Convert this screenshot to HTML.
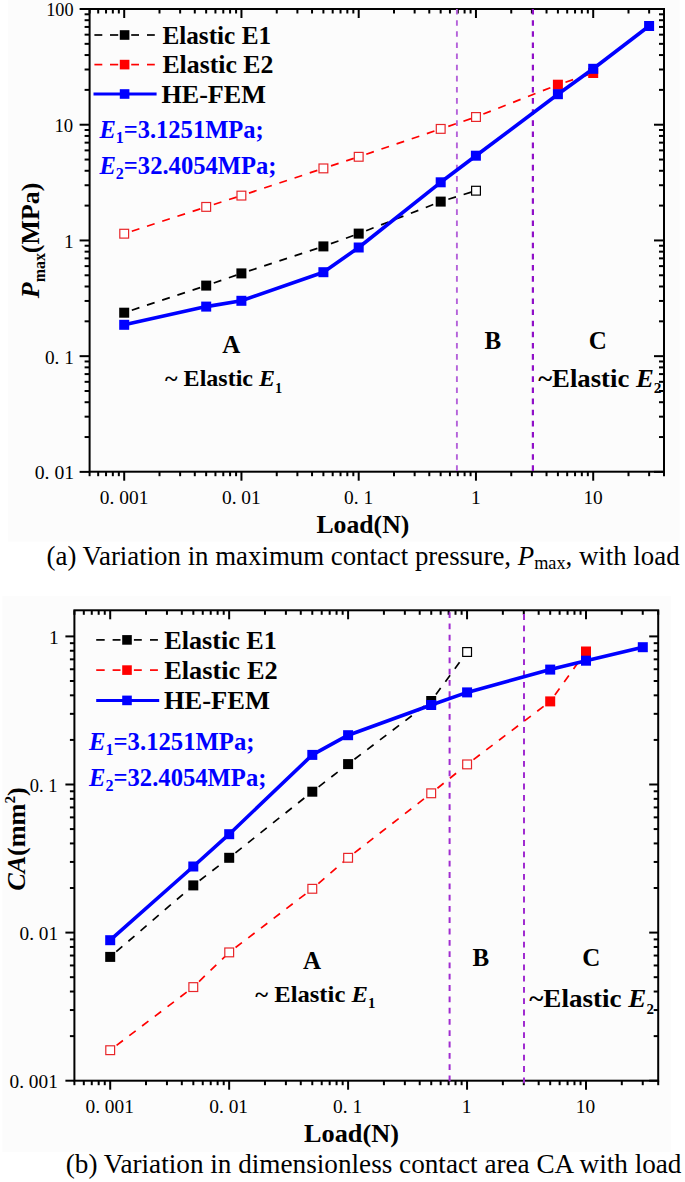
<!DOCTYPE html>
<html><head><meta charset="utf-8"><style>
html,body{margin:0;padding:0;background:#fff;}
svg{display:block;}
text{font-family:"Liberation Serif",serif;}
</style></head><body>
<svg width="685" height="1182" viewBox="0 0 685 1182">
<rect width="685" height="1182" fill="#fff"/>
<rect x="8" y="0" width="671.5" height="541.6" fill="#fcfcfc"/>
<rect x="2.5" y="596" width="668.5" height="556" fill="#fcfcfc"/>
<g stroke="#000" stroke-width="2" fill="none"><line x1="89.60" y1="471.70" x2="89.60" y2="476.20"/><line x1="89.60" y1="9.00" x2="89.60" y2="13.50"/><line x1="98.19" y1="471.70" x2="98.19" y2="476.20"/><line x1="98.19" y1="9.00" x2="98.19" y2="13.50"/><line x1="106.04" y1="471.70" x2="106.04" y2="476.20"/><line x1="106.04" y1="9.00" x2="106.04" y2="13.50"/><line x1="112.84" y1="471.70" x2="112.84" y2="476.20"/><line x1="112.84" y1="9.00" x2="112.84" y2="13.50"/><line x1="118.83" y1="471.70" x2="118.83" y2="476.20"/><line x1="118.83" y1="9.00" x2="118.83" y2="13.50"/><line x1="124.20" y1="471.70" x2="124.20" y2="480.70"/><line x1="124.20" y1="9.00" x2="124.20" y2="18.00"/><line x1="159.50" y1="471.70" x2="159.50" y2="476.20"/><line x1="159.50" y1="9.00" x2="159.50" y2="13.50"/><line x1="180.14" y1="471.70" x2="180.14" y2="476.20"/><line x1="180.14" y1="9.00" x2="180.14" y2="13.50"/><line x1="194.79" y1="471.70" x2="194.79" y2="476.20"/><line x1="194.79" y1="9.00" x2="194.79" y2="13.50"/><line x1="206.15" y1="471.70" x2="206.15" y2="476.20"/><line x1="206.15" y1="9.00" x2="206.15" y2="13.50"/><line x1="215.44" y1="471.70" x2="215.44" y2="476.20"/><line x1="215.44" y1="9.00" x2="215.44" y2="13.50"/><line x1="223.29" y1="471.70" x2="223.29" y2="476.20"/><line x1="223.29" y1="9.00" x2="223.29" y2="13.50"/><line x1="230.09" y1="471.70" x2="230.09" y2="476.20"/><line x1="230.09" y1="9.00" x2="230.09" y2="13.50"/><line x1="236.08" y1="471.70" x2="236.08" y2="476.20"/><line x1="236.08" y1="9.00" x2="236.08" y2="13.50"/><line x1="241.45" y1="471.70" x2="241.45" y2="480.70"/><line x1="241.45" y1="9.00" x2="241.45" y2="18.00"/><line x1="276.75" y1="471.70" x2="276.75" y2="476.20"/><line x1="276.75" y1="9.00" x2="276.75" y2="13.50"/><line x1="297.39" y1="471.70" x2="297.39" y2="476.20"/><line x1="297.39" y1="9.00" x2="297.39" y2="13.50"/><line x1="312.04" y1="471.70" x2="312.04" y2="476.20"/><line x1="312.04" y1="9.00" x2="312.04" y2="13.50"/><line x1="323.40" y1="471.70" x2="323.40" y2="476.20"/><line x1="323.40" y1="9.00" x2="323.40" y2="13.50"/><line x1="332.69" y1="471.70" x2="332.69" y2="476.20"/><line x1="332.69" y1="9.00" x2="332.69" y2="13.50"/><line x1="340.54" y1="471.70" x2="340.54" y2="476.20"/><line x1="340.54" y1="9.00" x2="340.54" y2="13.50"/><line x1="347.34" y1="471.70" x2="347.34" y2="476.20"/><line x1="347.34" y1="9.00" x2="347.34" y2="13.50"/><line x1="353.33" y1="471.70" x2="353.33" y2="476.20"/><line x1="353.33" y1="9.00" x2="353.33" y2="13.50"/><line x1="358.70" y1="471.70" x2="358.70" y2="480.70"/><line x1="358.70" y1="9.00" x2="358.70" y2="18.00"/><line x1="394.00" y1="471.70" x2="394.00" y2="476.20"/><line x1="394.00" y1="9.00" x2="394.00" y2="13.50"/><line x1="414.64" y1="471.70" x2="414.64" y2="476.20"/><line x1="414.64" y1="9.00" x2="414.64" y2="13.50"/><line x1="429.29" y1="471.70" x2="429.29" y2="476.20"/><line x1="429.29" y1="9.00" x2="429.29" y2="13.50"/><line x1="440.65" y1="471.70" x2="440.65" y2="476.20"/><line x1="440.65" y1="9.00" x2="440.65" y2="13.50"/><line x1="449.94" y1="471.70" x2="449.94" y2="476.20"/><line x1="449.94" y1="9.00" x2="449.94" y2="13.50"/><line x1="457.79" y1="471.70" x2="457.79" y2="476.20"/><line x1="457.79" y1="9.00" x2="457.79" y2="13.50"/><line x1="464.59" y1="471.70" x2="464.59" y2="476.20"/><line x1="464.59" y1="9.00" x2="464.59" y2="13.50"/><line x1="470.58" y1="471.70" x2="470.58" y2="476.20"/><line x1="470.58" y1="9.00" x2="470.58" y2="13.50"/><line x1="475.95" y1="471.70" x2="475.95" y2="480.70"/><line x1="475.95" y1="9.00" x2="475.95" y2="18.00"/><line x1="511.25" y1="471.70" x2="511.25" y2="476.20"/><line x1="511.25" y1="9.00" x2="511.25" y2="13.50"/><line x1="531.89" y1="471.70" x2="531.89" y2="476.20"/><line x1="531.89" y1="9.00" x2="531.89" y2="13.50"/><line x1="546.54" y1="471.70" x2="546.54" y2="476.20"/><line x1="546.54" y1="9.00" x2="546.54" y2="13.50"/><line x1="557.90" y1="471.70" x2="557.90" y2="476.20"/><line x1="557.90" y1="9.00" x2="557.90" y2="13.50"/><line x1="567.19" y1="471.70" x2="567.19" y2="476.20"/><line x1="567.19" y1="9.00" x2="567.19" y2="13.50"/><line x1="575.04" y1="471.70" x2="575.04" y2="476.20"/><line x1="575.04" y1="9.00" x2="575.04" y2="13.50"/><line x1="581.84" y1="471.70" x2="581.84" y2="476.20"/><line x1="581.84" y1="9.00" x2="581.84" y2="13.50"/><line x1="587.83" y1="471.70" x2="587.83" y2="476.20"/><line x1="587.83" y1="9.00" x2="587.83" y2="13.50"/><line x1="593.20" y1="471.70" x2="593.20" y2="480.70"/><line x1="593.20" y1="9.00" x2="593.20" y2="18.00"/><line x1="628.50" y1="471.70" x2="628.50" y2="476.20"/><line x1="628.50" y1="9.00" x2="628.50" y2="13.50"/><line x1="649.14" y1="471.70" x2="649.14" y2="476.20"/><line x1="649.14" y1="9.00" x2="649.14" y2="13.50"/><line x1="664.00" y1="471.70" x2="664.00" y2="476.20"/><line x1="664.00" y1="9.00" x2="664.00" y2="13.50"/><line x1="89.60" y1="471.88" x2="79.60" y2="471.88"/><line x1="664.00" y1="471.88" x2="654.00" y2="471.88"/><line x1="89.60" y1="437.04" x2="84.60" y2="437.04"/><line x1="664.00" y1="437.04" x2="659.00" y2="437.04"/><line x1="89.60" y1="416.67" x2="84.60" y2="416.67"/><line x1="664.00" y1="416.67" x2="659.00" y2="416.67"/><line x1="89.60" y1="402.21" x2="84.60" y2="402.21"/><line x1="664.00" y1="402.21" x2="659.00" y2="402.21"/><line x1="89.60" y1="391.00" x2="84.60" y2="391.00"/><line x1="664.00" y1="391.00" x2="659.00" y2="391.00"/><line x1="89.60" y1="381.83" x2="84.60" y2="381.83"/><line x1="664.00" y1="381.83" x2="659.00" y2="381.83"/><line x1="89.60" y1="374.09" x2="84.60" y2="374.09"/><line x1="664.00" y1="374.09" x2="659.00" y2="374.09"/><line x1="89.60" y1="367.37" x2="84.60" y2="367.37"/><line x1="664.00" y1="367.37" x2="659.00" y2="367.37"/><line x1="89.60" y1="361.46" x2="84.60" y2="361.46"/><line x1="664.00" y1="361.46" x2="659.00" y2="361.46"/><line x1="89.60" y1="356.16" x2="79.60" y2="356.16"/><line x1="664.00" y1="356.16" x2="654.00" y2="356.16"/><line x1="89.60" y1="321.32" x2="84.60" y2="321.32"/><line x1="664.00" y1="321.32" x2="659.00" y2="321.32"/><line x1="89.60" y1="300.95" x2="84.60" y2="300.95"/><line x1="664.00" y1="300.95" x2="659.00" y2="300.95"/><line x1="89.60" y1="286.49" x2="84.60" y2="286.49"/><line x1="664.00" y1="286.49" x2="659.00" y2="286.49"/><line x1="89.60" y1="275.28" x2="84.60" y2="275.28"/><line x1="664.00" y1="275.28" x2="659.00" y2="275.28"/><line x1="89.60" y1="266.11" x2="84.60" y2="266.11"/><line x1="664.00" y1="266.11" x2="659.00" y2="266.11"/><line x1="89.60" y1="258.37" x2="84.60" y2="258.37"/><line x1="664.00" y1="258.37" x2="659.00" y2="258.37"/><line x1="89.60" y1="251.65" x2="84.60" y2="251.65"/><line x1="664.00" y1="251.65" x2="659.00" y2="251.65"/><line x1="89.60" y1="245.74" x2="84.60" y2="245.74"/><line x1="664.00" y1="245.74" x2="659.00" y2="245.74"/><line x1="89.60" y1="240.44" x2="79.60" y2="240.44"/><line x1="664.00" y1="240.44" x2="654.00" y2="240.44"/><line x1="89.60" y1="205.60" x2="84.60" y2="205.60"/><line x1="664.00" y1="205.60" x2="659.00" y2="205.60"/><line x1="89.60" y1="185.23" x2="84.60" y2="185.23"/><line x1="664.00" y1="185.23" x2="659.00" y2="185.23"/><line x1="89.60" y1="170.77" x2="84.60" y2="170.77"/><line x1="664.00" y1="170.77" x2="659.00" y2="170.77"/><line x1="89.60" y1="159.56" x2="84.60" y2="159.56"/><line x1="664.00" y1="159.56" x2="659.00" y2="159.56"/><line x1="89.60" y1="150.39" x2="84.60" y2="150.39"/><line x1="664.00" y1="150.39" x2="659.00" y2="150.39"/><line x1="89.60" y1="142.65" x2="84.60" y2="142.65"/><line x1="664.00" y1="142.65" x2="659.00" y2="142.65"/><line x1="89.60" y1="135.93" x2="84.60" y2="135.93"/><line x1="664.00" y1="135.93" x2="659.00" y2="135.93"/><line x1="89.60" y1="130.02" x2="84.60" y2="130.02"/><line x1="664.00" y1="130.02" x2="659.00" y2="130.02"/><line x1="89.60" y1="124.72" x2="79.60" y2="124.72"/><line x1="664.00" y1="124.72" x2="654.00" y2="124.72"/><line x1="89.60" y1="89.88" x2="84.60" y2="89.88"/><line x1="664.00" y1="89.88" x2="659.00" y2="89.88"/><line x1="89.60" y1="69.51" x2="84.60" y2="69.51"/><line x1="664.00" y1="69.51" x2="659.00" y2="69.51"/><line x1="89.60" y1="55.05" x2="84.60" y2="55.05"/><line x1="664.00" y1="55.05" x2="659.00" y2="55.05"/><line x1="89.60" y1="43.84" x2="84.60" y2="43.84"/><line x1="664.00" y1="43.84" x2="659.00" y2="43.84"/><line x1="89.60" y1="34.67" x2="84.60" y2="34.67"/><line x1="664.00" y1="34.67" x2="659.00" y2="34.67"/><line x1="89.60" y1="26.93" x2="84.60" y2="26.93"/><line x1="664.00" y1="26.93" x2="659.00" y2="26.93"/><line x1="89.60" y1="20.21" x2="84.60" y2="20.21"/><line x1="664.00" y1="20.21" x2="659.00" y2="20.21"/><line x1="89.60" y1="14.30" x2="84.60" y2="14.30"/><line x1="664.00" y1="14.30" x2="659.00" y2="14.30"/><line x1="89.60" y1="9.00" x2="79.60" y2="9.00"/><line x1="664.00" y1="9.00" x2="654.00" y2="9.00"/><rect x="89.60" y="9.00" width="574.40" height="462.70" fill="none"/></g>
<line x1="456.9" y1="9.0" x2="456.9" y2="471.5" stroke="#b462da" stroke-width="1.9" stroke-dasharray="5.6 5.53" stroke-dashoffset="0"/><line x1="532.9" y1="9.0" x2="532.9" y2="471.5" stroke="#9010c8" stroke-width="2.2" stroke-dasharray="5.6 5.53" stroke-dashoffset="0"/><line x1="124.2" y1="233.7" x2="206.2" y2="206.9" stroke="#ff0000" stroke-width="1.7" stroke-dasharray="8 8" stroke-dashoffset="8"/><line x1="206.2" y1="206.9" x2="241.4" y2="195.6" stroke="#ff0000" stroke-width="1.7" stroke-dasharray="8 8" stroke-dashoffset="8"/><line x1="241.4" y1="195.6" x2="323.4" y2="168.4" stroke="#ff0000" stroke-width="1.7" stroke-dasharray="8 8" stroke-dashoffset="8"/><line x1="323.4" y1="168.4" x2="358.7" y2="156.8" stroke="#ff0000" stroke-width="1.7" stroke-dasharray="8 8" stroke-dashoffset="8"/><line x1="358.7" y1="156.8" x2="440.7" y2="128.9" stroke="#ff0000" stroke-width="1.7" stroke-dasharray="8 8" stroke-dashoffset="8"/><line x1="440.7" y1="128.9" x2="475.9" y2="117.0" stroke="#ff0000" stroke-width="1.7" stroke-dasharray="8 8" stroke-dashoffset="8"/><line x1="475.9" y1="117.0" x2="557.9" y2="84.7" stroke="#ff0000" stroke-width="1.7" stroke-dasharray="8 8" stroke-dashoffset="8"/><line x1="557.9" y1="84.7" x2="593.2" y2="73.0" stroke="#ff0000" stroke-width="1.7" stroke-dasharray="8 8" stroke-dashoffset="8"/><line x1="124.2" y1="312.7" x2="206.2" y2="285.6" stroke="#000000" stroke-width="1.7" stroke-dasharray="8 8" stroke-dashoffset="8"/><line x1="206.2" y1="285.6" x2="241.4" y2="273.4" stroke="#000000" stroke-width="1.7" stroke-dasharray="8 8" stroke-dashoffset="8"/><line x1="241.4" y1="273.4" x2="323.4" y2="246.4" stroke="#000000" stroke-width="1.7" stroke-dasharray="8 8" stroke-dashoffset="8"/><line x1="323.4" y1="246.4" x2="358.7" y2="233.6" stroke="#000000" stroke-width="1.7" stroke-dasharray="8 8" stroke-dashoffset="8"/><line x1="358.7" y1="233.6" x2="440.7" y2="201.6" stroke="#000000" stroke-width="1.7" stroke-dasharray="8 8" stroke-dashoffset="8"/><line x1="440.7" y1="201.6" x2="475.9" y2="190.7" stroke="#000000" stroke-width="1.7" stroke-dasharray="8 8" stroke-dashoffset="8"/><rect x="119.8" y="229.3" width="8.8" height="8.8" fill="#fff" stroke="#e8262a" stroke-width="1.2"/><rect x="201.8" y="202.5" width="8.8" height="8.8" fill="#fff" stroke="#e8262a" stroke-width="1.2"/><rect x="237.0" y="191.2" width="8.8" height="8.8" fill="#fff" stroke="#e8262a" stroke-width="1.2"/><rect x="319.0" y="164.0" width="8.8" height="8.8" fill="#fff" stroke="#e8262a" stroke-width="1.2"/><rect x="354.3" y="152.4" width="8.8" height="8.8" fill="#fff" stroke="#e8262a" stroke-width="1.2"/><rect x="436.3" y="124.5" width="8.8" height="8.8" fill="#fff" stroke="#e8262a" stroke-width="1.2"/><rect x="471.6" y="112.6" width="8.8" height="8.8" fill="#fff" stroke="#e8262a" stroke-width="1.2"/><rect x="552.9" y="79.7" width="10" height="10" fill="#ff0000"/><rect x="588.2" y="68.0" width="10" height="10" fill="#ff0000"/><rect x="119.2" y="307.7" width="10" height="10" fill="#000"/><rect x="201.2" y="280.6" width="10" height="10" fill="#000"/><rect x="236.4" y="268.4" width="10" height="10" fill="#000"/><rect x="318.4" y="241.4" width="10" height="10" fill="#000"/><rect x="353.7" y="228.6" width="10" height="10" fill="#000"/><rect x="435.7" y="196.6" width="10" height="10" fill="#000"/><rect x="471.6" y="186.3" width="8.8" height="8.8" fill="#fff" stroke="#000" stroke-width="1.2"/><polyline points="124.2,324.8 206.2,306.6 241.4,300.8 323.4,272.2 358.7,247.5 440.7,182.3 475.9,155.7 557.9,94.2 593.2,68.8 649.1,26.0" fill="none" stroke="#0000ff" stroke-width="3.6" stroke-linejoin="round"/><rect x="119.2" y="319.8" width="10" height="10" fill="#0000ff"/><rect x="201.2" y="301.6" width="10" height="10" fill="#0000ff"/><rect x="236.4" y="295.8" width="10" height="10" fill="#0000ff"/><rect x="318.4" y="267.2" width="10" height="10" fill="#0000ff"/><rect x="353.7" y="242.5" width="10" height="10" fill="#0000ff"/><rect x="435.7" y="177.3" width="10" height="10" fill="#0000ff"/><rect x="470.9" y="150.7" width="10" height="10" fill="#0000ff"/><rect x="552.9" y="89.2" width="10" height="10" fill="#0000ff"/><rect x="588.2" y="63.8" width="10" height="10" fill="#0000ff"/><rect x="644.1" y="21.0" width="10" height="10" fill="#0000ff"/>
<line x1="94.4" y1="35.0" x2="102.3" y2="35.0" stroke="#000" stroke-width="1.7"/><line x1="110" y1="35.0" x2="118.2" y2="35.0" stroke="#000" stroke-width="1.7"/><line x1="131.2" y1="35.0" x2="139" y2="35.0" stroke="#000" stroke-width="1.7"/><line x1="147" y1="35.0" x2="154.8" y2="35.0" stroke="#000" stroke-width="1.7"/><rect x="119.8" y="30.2" width="9.6" height="9.6" fill="#000"/><line x1="94.4" y1="64.6" x2="102.3" y2="64.6" stroke="#ff0000" stroke-width="1.7"/><line x1="110" y1="64.6" x2="118.2" y2="64.6" stroke="#ff0000" stroke-width="1.7"/><line x1="131.2" y1="64.6" x2="139" y2="64.6" stroke="#ff0000" stroke-width="1.7"/><line x1="147" y1="64.6" x2="154.8" y2="64.6" stroke="#ff0000" stroke-width="1.7"/><rect x="119.8" y="59.8" width="9.6" height="9.6" fill="#ff0000"/><line x1="93.5" y1="94.0" x2="156.6" y2="94.0" stroke="#0000ff" stroke-width="3"/><rect x="119.8" y="89.2" width="9.6" height="9.6" fill="#0000ff"/>
<g stroke="#000" stroke-width="2" fill="none"><line x1="74.40" y1="1080.70" x2="74.40" y2="1085.20"/><line x1="74.40" y1="610.30" x2="74.40" y2="614.80"/><line x1="83.81" y1="1080.70" x2="83.81" y2="1085.20"/><line x1="83.81" y1="610.30" x2="83.81" y2="614.80"/><line x1="91.77" y1="1080.70" x2="91.77" y2="1085.20"/><line x1="91.77" y1="610.30" x2="91.77" y2="614.80"/><line x1="98.67" y1="1080.70" x2="98.67" y2="1085.20"/><line x1="98.67" y1="610.30" x2="98.67" y2="614.80"/><line x1="104.76" y1="1080.70" x2="104.76" y2="1085.20"/><line x1="104.76" y1="610.30" x2="104.76" y2="614.80"/><line x1="110.20" y1="1080.70" x2="110.20" y2="1089.70"/><line x1="110.20" y1="610.30" x2="110.20" y2="619.30"/><line x1="146.01" y1="1080.70" x2="146.01" y2="1085.20"/><line x1="146.01" y1="610.30" x2="146.01" y2="614.80"/><line x1="166.95" y1="1080.70" x2="166.95" y2="1085.20"/><line x1="166.95" y1="610.30" x2="166.95" y2="614.80"/><line x1="181.82" y1="1080.70" x2="181.82" y2="1085.20"/><line x1="181.82" y1="610.30" x2="181.82" y2="614.80"/><line x1="193.34" y1="1080.70" x2="193.34" y2="1085.20"/><line x1="193.34" y1="610.30" x2="193.34" y2="614.80"/><line x1="202.76" y1="1080.70" x2="202.76" y2="1085.20"/><line x1="202.76" y1="610.30" x2="202.76" y2="614.80"/><line x1="210.72" y1="1080.70" x2="210.72" y2="1085.20"/><line x1="210.72" y1="610.30" x2="210.72" y2="614.80"/><line x1="217.62" y1="1080.70" x2="217.62" y2="1085.20"/><line x1="217.62" y1="610.30" x2="217.62" y2="614.80"/><line x1="223.71" y1="1080.70" x2="223.71" y2="1085.20"/><line x1="223.71" y1="610.30" x2="223.71" y2="614.80"/><line x1="229.15" y1="1080.70" x2="229.15" y2="1089.70"/><line x1="229.15" y1="610.30" x2="229.15" y2="619.30"/><line x1="264.96" y1="1080.70" x2="264.96" y2="1085.20"/><line x1="264.96" y1="610.30" x2="264.96" y2="614.80"/><line x1="285.90" y1="1080.70" x2="285.90" y2="1085.20"/><line x1="285.90" y1="610.30" x2="285.90" y2="614.80"/><line x1="300.77" y1="1080.70" x2="300.77" y2="1085.20"/><line x1="300.77" y1="610.30" x2="300.77" y2="614.80"/><line x1="312.29" y1="1080.70" x2="312.29" y2="1085.20"/><line x1="312.29" y1="610.30" x2="312.29" y2="614.80"/><line x1="321.71" y1="1080.70" x2="321.71" y2="1085.20"/><line x1="321.71" y1="610.30" x2="321.71" y2="614.80"/><line x1="329.67" y1="1080.70" x2="329.67" y2="1085.20"/><line x1="329.67" y1="610.30" x2="329.67" y2="614.80"/><line x1="336.57" y1="1080.70" x2="336.57" y2="1085.20"/><line x1="336.57" y1="610.30" x2="336.57" y2="614.80"/><line x1="342.66" y1="1080.70" x2="342.66" y2="1085.20"/><line x1="342.66" y1="610.30" x2="342.66" y2="614.80"/><line x1="348.10" y1="1080.70" x2="348.10" y2="1089.70"/><line x1="348.10" y1="610.30" x2="348.10" y2="619.30"/><line x1="383.91" y1="1080.70" x2="383.91" y2="1085.20"/><line x1="383.91" y1="610.30" x2="383.91" y2="614.80"/><line x1="404.85" y1="1080.70" x2="404.85" y2="1085.20"/><line x1="404.85" y1="610.30" x2="404.85" y2="614.80"/><line x1="419.72" y1="1080.70" x2="419.72" y2="1085.20"/><line x1="419.72" y1="610.30" x2="419.72" y2="614.80"/><line x1="431.24" y1="1080.70" x2="431.24" y2="1085.20"/><line x1="431.24" y1="610.30" x2="431.24" y2="614.80"/><line x1="440.66" y1="1080.70" x2="440.66" y2="1085.20"/><line x1="440.66" y1="610.30" x2="440.66" y2="614.80"/><line x1="448.62" y1="1080.70" x2="448.62" y2="1085.20"/><line x1="448.62" y1="610.30" x2="448.62" y2="614.80"/><line x1="455.52" y1="1080.70" x2="455.52" y2="1085.20"/><line x1="455.52" y1="610.30" x2="455.52" y2="614.80"/><line x1="461.61" y1="1080.70" x2="461.61" y2="1085.20"/><line x1="461.61" y1="610.30" x2="461.61" y2="614.80"/><line x1="467.05" y1="1080.70" x2="467.05" y2="1089.70"/><line x1="467.05" y1="610.30" x2="467.05" y2="619.30"/><line x1="502.86" y1="1080.70" x2="502.86" y2="1085.20"/><line x1="502.86" y1="610.30" x2="502.86" y2="614.80"/><line x1="523.80" y1="1080.70" x2="523.80" y2="1085.20"/><line x1="523.80" y1="610.30" x2="523.80" y2="614.80"/><line x1="538.67" y1="1080.70" x2="538.67" y2="1085.20"/><line x1="538.67" y1="610.30" x2="538.67" y2="614.80"/><line x1="550.19" y1="1080.70" x2="550.19" y2="1085.20"/><line x1="550.19" y1="610.30" x2="550.19" y2="614.80"/><line x1="559.61" y1="1080.70" x2="559.61" y2="1085.20"/><line x1="559.61" y1="610.30" x2="559.61" y2="614.80"/><line x1="567.57" y1="1080.70" x2="567.57" y2="1085.20"/><line x1="567.57" y1="610.30" x2="567.57" y2="614.80"/><line x1="574.47" y1="1080.70" x2="574.47" y2="1085.20"/><line x1="574.47" y1="610.30" x2="574.47" y2="614.80"/><line x1="580.56" y1="1080.70" x2="580.56" y2="1085.20"/><line x1="580.56" y1="610.30" x2="580.56" y2="614.80"/><line x1="586.00" y1="1080.70" x2="586.00" y2="1089.70"/><line x1="586.00" y1="610.30" x2="586.00" y2="619.30"/><line x1="621.81" y1="1080.70" x2="621.81" y2="1085.20"/><line x1="621.81" y1="610.30" x2="621.81" y2="614.80"/><line x1="642.75" y1="1080.70" x2="642.75" y2="1085.20"/><line x1="642.75" y1="610.30" x2="642.75" y2="614.80"/><line x1="658.20" y1="1080.70" x2="658.20" y2="1085.20"/><line x1="658.20" y1="610.30" x2="658.20" y2="614.80"/><line x1="74.40" y1="1080.70" x2="65.40" y2="1080.70"/><line x1="658.20" y1="1080.70" x2="649.20" y2="1080.70"/><line x1="74.40" y1="1036.12" x2="69.90" y2="1036.12"/><line x1="658.20" y1="1036.12" x2="653.70" y2="1036.12"/><line x1="74.40" y1="1010.04" x2="69.90" y2="1010.04"/><line x1="658.20" y1="1010.04" x2="653.70" y2="1010.04"/><line x1="74.40" y1="991.53" x2="69.90" y2="991.53"/><line x1="658.20" y1="991.53" x2="653.70" y2="991.53"/><line x1="74.40" y1="977.18" x2="69.90" y2="977.18"/><line x1="658.20" y1="977.18" x2="653.70" y2="977.18"/><line x1="74.40" y1="965.46" x2="69.90" y2="965.46"/><line x1="658.20" y1="965.46" x2="653.70" y2="965.46"/><line x1="74.40" y1="955.54" x2="69.90" y2="955.54"/><line x1="658.20" y1="955.54" x2="653.70" y2="955.54"/><line x1="74.40" y1="946.95" x2="69.90" y2="946.95"/><line x1="658.20" y1="946.95" x2="653.70" y2="946.95"/><line x1="74.40" y1="939.38" x2="69.90" y2="939.38"/><line x1="658.20" y1="939.38" x2="653.70" y2="939.38"/><line x1="74.40" y1="932.60" x2="65.40" y2="932.60"/><line x1="658.20" y1="932.60" x2="649.20" y2="932.60"/><line x1="74.40" y1="888.02" x2="69.90" y2="888.02"/><line x1="658.20" y1="888.02" x2="653.70" y2="888.02"/><line x1="74.40" y1="861.94" x2="69.90" y2="861.94"/><line x1="658.20" y1="861.94" x2="653.70" y2="861.94"/><line x1="74.40" y1="843.43" x2="69.90" y2="843.43"/><line x1="658.20" y1="843.43" x2="653.70" y2="843.43"/><line x1="74.40" y1="829.08" x2="69.90" y2="829.08"/><line x1="658.20" y1="829.08" x2="653.70" y2="829.08"/><line x1="74.40" y1="817.36" x2="69.90" y2="817.36"/><line x1="658.20" y1="817.36" x2="653.70" y2="817.36"/><line x1="74.40" y1="807.44" x2="69.90" y2="807.44"/><line x1="658.20" y1="807.44" x2="653.70" y2="807.44"/><line x1="74.40" y1="798.85" x2="69.90" y2="798.85"/><line x1="658.20" y1="798.85" x2="653.70" y2="798.85"/><line x1="74.40" y1="791.28" x2="69.90" y2="791.28"/><line x1="658.20" y1="791.28" x2="653.70" y2="791.28"/><line x1="74.40" y1="784.50" x2="65.40" y2="784.50"/><line x1="658.20" y1="784.50" x2="649.20" y2="784.50"/><line x1="74.40" y1="739.92" x2="69.90" y2="739.92"/><line x1="658.20" y1="739.92" x2="653.70" y2="739.92"/><line x1="74.40" y1="713.84" x2="69.90" y2="713.84"/><line x1="658.20" y1="713.84" x2="653.70" y2="713.84"/><line x1="74.40" y1="695.33" x2="69.90" y2="695.33"/><line x1="658.20" y1="695.33" x2="653.70" y2="695.33"/><line x1="74.40" y1="680.98" x2="69.90" y2="680.98"/><line x1="658.20" y1="680.98" x2="653.70" y2="680.98"/><line x1="74.40" y1="669.26" x2="69.90" y2="669.26"/><line x1="658.20" y1="669.26" x2="653.70" y2="669.26"/><line x1="74.40" y1="659.34" x2="69.90" y2="659.34"/><line x1="658.20" y1="659.34" x2="653.70" y2="659.34"/><line x1="74.40" y1="650.75" x2="69.90" y2="650.75"/><line x1="658.20" y1="650.75" x2="653.70" y2="650.75"/><line x1="74.40" y1="643.18" x2="69.90" y2="643.18"/><line x1="658.20" y1="643.18" x2="653.70" y2="643.18"/><line x1="74.40" y1="636.40" x2="65.40" y2="636.40"/><line x1="658.20" y1="636.40" x2="649.20" y2="636.40"/><rect x="74.40" y="610.30" width="583.80" height="470.40" fill="none"/></g>
<line x1="449.6" y1="610.3" x2="449.6" y2="1081.5" stroke="#a02cd0" stroke-width="2.0" stroke-dasharray="5.8 5.5" stroke-dashoffset="9.4"/><line x1="524.0" y1="610.3" x2="524.0" y2="1084.0" stroke="#a02cd0" stroke-width="2.0" stroke-dasharray="5.8 5.5" stroke-dashoffset="7.5"/><line x1="110.2" y1="1050.2" x2="193.3" y2="987.1" stroke="#ff0000" stroke-width="1.7" stroke-dasharray="8 8" stroke-dashoffset="8"/><line x1="193.3" y1="987.1" x2="229.2" y2="952.4" stroke="#ff0000" stroke-width="1.7" stroke-dasharray="8 8" stroke-dashoffset="8"/><line x1="229.2" y1="952.4" x2="312.3" y2="888.8" stroke="#ff0000" stroke-width="1.7" stroke-dasharray="8 8" stroke-dashoffset="8"/><line x1="312.3" y1="888.8" x2="348.1" y2="857.8" stroke="#ff0000" stroke-width="1.7" stroke-dasharray="8 8" stroke-dashoffset="8"/><line x1="348.1" y1="857.8" x2="431.2" y2="793.3" stroke="#ff0000" stroke-width="1.7" stroke-dasharray="8 8" stroke-dashoffset="8"/><line x1="431.2" y1="793.3" x2="467.1" y2="764.4" stroke="#ff0000" stroke-width="1.7" stroke-dasharray="8 8" stroke-dashoffset="8"/><line x1="467.1" y1="764.4" x2="550.2" y2="701.4" stroke="#ff0000" stroke-width="1.7" stroke-dasharray="8 8" stroke-dashoffset="8"/><line x1="550.2" y1="701.4" x2="586.0" y2="651.5" stroke="#ff0000" stroke-width="1.7" stroke-dasharray="8 8" stroke-dashoffset="8"/><line x1="110.2" y1="956.9" x2="193.3" y2="885.4" stroke="#000000" stroke-width="1.7" stroke-dasharray="8 8" stroke-dashoffset="8"/><line x1="193.3" y1="885.4" x2="229.2" y2="857.8" stroke="#000000" stroke-width="1.7" stroke-dasharray="8 8" stroke-dashoffset="8"/><line x1="229.2" y1="857.8" x2="312.3" y2="791.7" stroke="#000000" stroke-width="1.7" stroke-dasharray="8 8" stroke-dashoffset="8"/><line x1="312.3" y1="791.7" x2="348.1" y2="764.1" stroke="#000000" stroke-width="1.7" stroke-dasharray="8 8" stroke-dashoffset="8"/><line x1="348.1" y1="764.1" x2="431.2" y2="701.0" stroke="#000000" stroke-width="1.7" stroke-dasharray="8 8" stroke-dashoffset="8"/><line x1="431.2" y1="701.0" x2="467.1" y2="652.0" stroke="#000000" stroke-width="1.7" stroke-dasharray="8 8" stroke-dashoffset="8"/><rect x="105.8" y="1045.8" width="8.8" height="8.8" fill="#fff" stroke="#e8262a" stroke-width="1.2"/><rect x="188.9" y="982.7" width="8.8" height="8.8" fill="#fff" stroke="#e8262a" stroke-width="1.2"/><rect x="224.8" y="948.0" width="8.8" height="8.8" fill="#fff" stroke="#e8262a" stroke-width="1.2"/><rect x="307.9" y="884.4" width="8.8" height="8.8" fill="#fff" stroke="#e8262a" stroke-width="1.2"/><rect x="343.7" y="853.4" width="8.8" height="8.8" fill="#fff" stroke="#e8262a" stroke-width="1.2"/><rect x="426.8" y="788.9" width="8.8" height="8.8" fill="#fff" stroke="#e8262a" stroke-width="1.2"/><rect x="462.7" y="760.0" width="8.8" height="8.8" fill="#fff" stroke="#e8262a" stroke-width="1.2"/><rect x="545.2" y="696.4" width="10" height="10" fill="#ff0000"/><rect x="581.0" y="646.5" width="10" height="10" fill="#ff0000"/><rect x="105.2" y="951.9" width="10" height="10" fill="#000"/><rect x="188.3" y="880.4" width="10" height="10" fill="#000"/><rect x="224.2" y="852.8" width="10" height="10" fill="#000"/><rect x="307.3" y="786.7" width="10" height="10" fill="#000"/><rect x="343.1" y="759.1" width="10" height="10" fill="#000"/><rect x="426.2" y="696.0" width="10" height="10" fill="#000"/><rect x="462.7" y="647.6" width="8.8" height="8.8" fill="#fff" stroke="#000" stroke-width="1.2"/><polyline points="110.2,940.2 193.3,866.5 229.2,834.2 312.3,754.9 348.1,735.2 431.2,705.0 467.1,692.4 550.2,669.6 586.0,660.7 642.8,647.2" fill="none" stroke="#0000ff" stroke-width="3.6" stroke-linejoin="round"/><rect x="105.2" y="935.2" width="10" height="10" fill="#0000ff"/><rect x="188.3" y="861.5" width="10" height="10" fill="#0000ff"/><rect x="224.2" y="829.2" width="10" height="10" fill="#0000ff"/><rect x="307.3" y="749.9" width="10" height="10" fill="#0000ff"/><rect x="343.1" y="730.2" width="10" height="10" fill="#0000ff"/><rect x="426.2" y="700.0" width="10" height="10" fill="#0000ff"/><rect x="462.1" y="687.4" width="10" height="10" fill="#0000ff"/><rect x="545.2" y="664.6" width="10" height="10" fill="#0000ff"/><rect x="581.0" y="655.7" width="10" height="10" fill="#0000ff"/><rect x="637.8" y="642.2" width="10" height="10" fill="#0000ff"/>
<line x1="96.2" y1="639.9" x2="104.7" y2="639.9" stroke="#000" stroke-width="1.7"/><line x1="112.6" y1="639.9" x2="120.5" y2="639.9" stroke="#000" stroke-width="1.7"/><line x1="133.9" y1="639.9" x2="141.8" y2="639.9" stroke="#000" stroke-width="1.7"/><line x1="150" y1="639.9" x2="157.9" y2="639.9" stroke="#000" stroke-width="1.7"/><rect x="122.2" y="635.1" width="9.6" height="9.6" fill="#000"/><line x1="96.2" y1="670.1" x2="104.7" y2="670.1" stroke="#ff0000" stroke-width="1.7"/><line x1="112.6" y1="670.1" x2="120.5" y2="670.1" stroke="#ff0000" stroke-width="1.7"/><line x1="133.9" y1="670.1" x2="141.8" y2="670.1" stroke="#ff0000" stroke-width="1.7"/><line x1="150" y1="670.1" x2="157.9" y2="670.1" stroke="#ff0000" stroke-width="1.7"/><rect x="122.2" y="665.3" width="9.6" height="9.6" fill="#ff0000"/><line x1="96.2" y1="700.4" x2="159.2" y2="700.4" stroke="#0000ff" stroke-width="3"/><rect x="122.2" y="695.6" width="9.6" height="9.6" fill="#0000ff"/>
<text x="73.60" y="16.40" font-size="19.4" font-weight="normal" font-style="normal" text-anchor="end" fill="#000" textLength="27.39" lengthAdjust="spacingAndGlyphs">100</text>
<text x="73.20" y="132.12" font-size="19.4" font-weight="normal" font-style="normal" text-anchor="end" fill="#000" textLength="18.71" lengthAdjust="spacingAndGlyphs">10</text>
<text x="73.80" y="247.84" font-size="19.4" font-weight="normal" font-style="normal" text-anchor="end" fill="#000">1</text>
<text x="73.80" y="363.56" font-size="19.4" font-weight="normal" font-style="normal" text-anchor="end" fill="#000" textLength="28.89" lengthAdjust="spacingAndGlyphs">0. 1</text>
<text x="74.10" y="479.28" font-size="19.4" font-weight="normal" font-style="normal" text-anchor="end" fill="#000" textLength="39.41" lengthAdjust="spacingAndGlyphs">0. 01</text>
<text x="124.10" y="503.60" font-size="19.4" font-weight="normal" font-style="normal" text-anchor="middle" fill="#000">0. 001</text>
<text x="241.35" y="503.60" font-size="19.4" font-weight="normal" font-style="normal" text-anchor="middle" fill="#000">0. 01</text>
<text x="358.60" y="503.60" font-size="19.4" font-weight="normal" font-style="normal" text-anchor="middle" fill="#000">0. 1</text>
<text x="475.85" y="503.60" font-size="19.4" font-weight="normal" font-style="normal" text-anchor="middle" fill="#000">1</text>
<text x="593.10" y="503.60" font-size="19.4" font-weight="normal" font-style="normal" text-anchor="middle" fill="#000">10</text>
<text x="58.70" y="643.80" font-size="19.4" font-weight="normal" font-style="normal" text-anchor="end" fill="#000">1</text>
<text x="57.50" y="791.90" font-size="19.4" font-weight="normal" font-style="normal" text-anchor="end" fill="#000" textLength="27.73" lengthAdjust="spacingAndGlyphs">0. 1</text>
<text x="58.10" y="940.00" font-size="19.4" font-weight="normal" font-style="normal" text-anchor="end" fill="#000" textLength="38.58" lengthAdjust="spacingAndGlyphs">0. 01</text>
<text x="57.80" y="1088.10" font-size="19.4" font-weight="normal" font-style="normal" text-anchor="end" fill="#000" textLength="48.28" lengthAdjust="spacingAndGlyphs">0. 001</text>
<text x="109.70" y="1113.00" font-size="19.4" font-weight="normal" font-style="normal" text-anchor="middle" fill="#000">0. 001</text>
<text x="228.65" y="1113.00" font-size="19.4" font-weight="normal" font-style="normal" text-anchor="middle" fill="#000">0. 01</text>
<text x="347.60" y="1113.00" font-size="19.4" font-weight="normal" font-style="normal" text-anchor="middle" fill="#000">0. 1</text>
<text x="466.55" y="1113.00" font-size="19.4" font-weight="normal" font-style="normal" text-anchor="middle" fill="#000">1</text>
<text x="585.50" y="1113.00" font-size="19.4" font-weight="normal" font-style="normal" text-anchor="middle" fill="#000">10</text>
<text x="316.40" y="532.60" font-size="26" font-weight="bold" font-style="normal" text-anchor="start" fill="#000" textLength="92.90" lengthAdjust="spacingAndGlyphs">Load(N)</text>
<text x="304.00" y="1141.50" font-size="26" font-weight="bold" font-style="normal" text-anchor="start" fill="#000" textLength="94.94" lengthAdjust="spacingAndGlyphs">Load(N)</text>
<text transform="translate(38.60,298.20) rotate(-90)" x="0" y="0" font-size="26" font-weight="bold" font-style="normal" text-anchor="start" fill="#000" textLength="115.56" lengthAdjust="spacingAndGlyphs"><tspan font-style="italic">P</tspan><tspan font-size="16" dy="6">max</tspan><tspan dy="-6">(MPa)</tspan></text>
<text transform="translate(24.60,890.80) rotate(-90)" x="0" y="0" font-size="26" font-weight="bold" font-style="normal" text-anchor="start" fill="#000" textLength="103.46" lengthAdjust="spacingAndGlyphs"><tspan font-style="italic">CA</tspan>(mm<tspan font-size="15" dy="-10">2</tspan><tspan dy="10">)</tspan></text>
<text x="162.40" y="43.70" font-size="26" font-weight="bold" font-style="normal" text-anchor="start" fill="#000" textLength="108.70" lengthAdjust="spacingAndGlyphs">Elastic E1</text>
<text x="162.40" y="72.80" font-size="26" font-weight="bold" font-style="normal" text-anchor="start" fill="#000" textLength="111.05" lengthAdjust="spacingAndGlyphs">Elastic E2</text>
<text x="161.40" y="103.30" font-size="26" font-weight="bold" font-style="normal" text-anchor="start" fill="#000" textLength="104.51" lengthAdjust="spacingAndGlyphs">HE-FEM</text>
<text x="164.20" y="649.30" font-size="26" font-weight="bold" font-style="normal" text-anchor="start" fill="#000" textLength="112.67" lengthAdjust="spacingAndGlyphs">Elastic E1</text>
<text x="164.20" y="678.60" font-size="26" font-weight="bold" font-style="normal" text-anchor="start" fill="#000" textLength="113.48" lengthAdjust="spacingAndGlyphs">Elastic E2</text>
<text x="164.00" y="708.60" font-size="26" font-weight="bold" font-style="normal" text-anchor="start" fill="#000" textLength="105.90" lengthAdjust="spacingAndGlyphs">HE-FEM</text>
<text x="99.40" y="138.00" font-size="24.5" font-weight="bold" font-style="normal" text-anchor="start" fill="#0000ff" textLength="164.30" lengthAdjust="spacingAndGlyphs"><tspan font-style="italic">E</tspan><tspan font-size="16" dy="5">1</tspan><tspan dy="-5">=3.1251MPa;</tspan></text>
<text x="99.40" y="173.60" font-size="24.5" font-weight="bold" font-style="normal" text-anchor="start" fill="#0000ff" textLength="177.15" lengthAdjust="spacingAndGlyphs"><tspan font-style="italic">E</tspan><tspan font-size="16" dy="5">2</tspan><tspan dy="-5">=32.4054MPa;</tspan></text>
<text x="89.00" y="750.00" font-size="24.5" font-weight="bold" font-style="normal" text-anchor="start" fill="#0000ff" textLength="165.51" lengthAdjust="spacingAndGlyphs"><tspan font-style="italic">E</tspan><tspan font-size="16" dy="5">1</tspan><tspan dy="-5">=3.1251MPa;</tspan></text>
<text x="89.00" y="785.80" font-size="24.5" font-weight="bold" font-style="normal" text-anchor="start" fill="#0000ff" textLength="177.45" lengthAdjust="spacingAndGlyphs"><tspan font-style="italic">E</tspan><tspan font-size="16" dy="5">2</tspan><tspan dy="-5">=32.4054MPa;</tspan></text>
<text x="222.20" y="353.30" font-size="25" font-weight="bold" font-style="normal" text-anchor="start" fill="#000">A</text>
<text x="484.40" y="349.20" font-size="25" font-weight="bold" font-style="normal" text-anchor="start" fill="#000">B</text>
<text x="588.80" y="349.20" font-size="25" font-weight="bold" font-style="normal" text-anchor="start" fill="#000">C</text>
<text x="303.00" y="968.50" font-size="25" font-weight="bold" font-style="normal" text-anchor="start" fill="#000">A</text>
<text x="472.40" y="965.70" font-size="25" font-weight="bold" font-style="normal" text-anchor="start" fill="#000">B</text>
<text x="582.20" y="966.00" font-size="25" font-weight="bold" font-style="normal" text-anchor="start" fill="#000">C</text>
<text x="165.10" y="386.30" font-size="23.5" font-weight="bold" font-style="normal" text-anchor="start" fill="#000" textLength="117.17" lengthAdjust="spacingAndGlyphs">~ Elastic <tspan font-style="italic">E</tspan><tspan font-size="14" dy="6.5">1</tspan></text>
<text x="538.20" y="386.60" font-size="24.5" font-weight="bold" font-style="normal" text-anchor="start" fill="#000" textLength="123.27" lengthAdjust="spacingAndGlyphs">~Elastic <tspan font-style="italic">E</tspan><tspan font-size="14" dy="6.5">2</tspan></text>
<text x="255.30" y="1001.90" font-size="23.5" font-weight="bold" font-style="normal" text-anchor="start" fill="#000" textLength="119.92" lengthAdjust="spacingAndGlyphs">~ Elastic <tspan font-style="italic">E</tspan><tspan font-size="14" dy="6.5">1</tspan></text>
<text x="529.30" y="1007.40" font-size="25.5" font-weight="bold" font-style="normal" text-anchor="start" fill="#000" textLength="124.53" lengthAdjust="spacingAndGlyphs">~Elastic <tspan font-style="italic">E</tspan><tspan font-size="14" dy="6.5">2</tspan></text>
<text x="46.60" y="564.50" font-size="26.5" font-weight="normal" font-style="normal" text-anchor="start" fill="#000" textLength="632.97" lengthAdjust="spacingAndGlyphs">(a) Variation in maximum contact pressure, <tspan font-style="italic">P</tspan><tspan font-size="18" dy="4">max</tspan><tspan dy="-4">, with load</tspan></text>
<text x="65.80" y="1173.20" font-size="26.5" font-weight="normal" font-style="normal" text-anchor="start" fill="#000" textLength="615.67" lengthAdjust="spacingAndGlyphs">(b) Variation in dimensionless contact area CA with load</text>
</svg>
</body></html>
